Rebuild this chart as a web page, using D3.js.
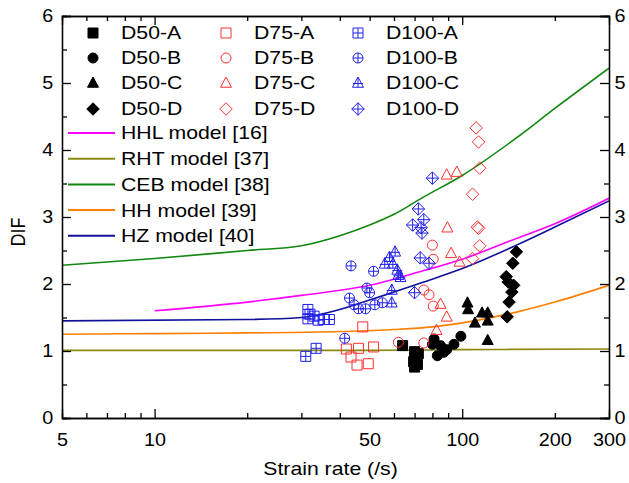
<!DOCTYPE html>
<html>
<head>
<meta charset="utf-8">
<script src="https://cdn.jsdelivr.net/npm/d3@7"></script>
<style>
  body { margin: 0; background: #fff; }
  svg { font-family: Arial, "Liberation Sans", sans-serif; }
</style>
</head>
<body>
<script>
// test data: [strain rate, DIF]
const d50A = [[64,1.08],[70,0.99],[72,0.96],[69.5,0.84],[71.5,0.80],[70,0.76]];
const d50B = [[81,1.18],[80,1.10],[85,1.08],[83,0.93],[89,1.02],[94,1.10],[99,1.22],[87,0.98]];
const d50C = [[104,1.72],[104.5,1.62],[116,1.57],[121,1.57],[110,1.42],[121,1.45],[121,1.16]];
const d50D = [[150,2.48],[146,2.31],[139,2.11],[141,2.03],[147,1.98],[145,1.88],[142,1.73],[140,1.51]];
const d75A = [[47.5,1.36],[42,1.03],[46,1.04],[51.5,1.06],[43.5,0.91],[45.5,0.79],[49.5,0.81]];
const d75B = [[80,2.58],[80.5,2.37],[75,1.91],[78,1.84],[80.5,1.67],[62,1.13],[75,1.12]];
const d75C = [[89,3.63],[96,3.67],[89.5,2.84],[92,2.46],[98,2.33],[85,1.70],[89,1.51],[82.5,1.31]];
const d75D = [[111,4.33],[113,4.12],[114,3.73],[108,3.34],[112,2.85],[113,2.83],[114,2.57],[108,2.38]];
const d100A = [[31.5,1.62],[32,1.55],[31.5,1.48],[33,1.52],[34,1.46],[35.5,1.47],[37,1.47],[31,0.92],[33.5,1.04]];
const d100B = [[43.5,2.27],[51.5,2.19],[49,1.94],[50,1.87],[43,1.79],[44.5,1.69],[46,1.63],[48.5,1.63],[52,1.69],[55,1.72],[41.5,1.19]];
const d100C = [[60.5,2.48],[58,2.40],[56,2.30],[59.5,2.30],[61.5,2.21],[62,2.13],[63,2.10],[59,1.91],[59,1.72]];
const d100D = [[80,3.58],[72,3.12],[75,2.96],[69,2.88],[73.5,2.84],[74,2.76],[73,2.39],[78,2.31],[70,1.87]];

// model curves: [strain rate, DIF]
const hhl = [[10,1.60],[20,1.73],[30,1.83],[50,1.98],[75,2.20],[100,2.37],[150,2.68],[200,2.90],[300,3.28]];
const rht = [[5,1.01],[50,1.01],[100,1.02],[300,1.03]];
const ceb = [[5,2.28],[10,2.38],[20,2.50],[30,2.57],[40,2.72],[50,2.88],[60,3.04],[75,3.30],[100,3.62],[150,4.18],[200,4.62],[300,5.22]];
const hh  = [[5,1.25],[10,1.26],[20,1.27],[40,1.29],[60,1.32],[80,1.36],[100,1.42],[150,1.58],[200,1.73],[300,1.98]];
const hz  = [[5,1.45],[20,1.47],[30,1.50],[40,1.62],[50,1.76],[60,1.88],[75,2.03],[100,2.23],[150,2.58],[200,2.85],[300,3.24]];

// ticks
const xLabels = [5, 10, 50, 100, 200, 300];
const xMajor = [10, 100];
const xMinor = [6, 7, 8, 9, 20, 30, 40, 50, 60, 70, 80, 90, 200];
const yMajor = [0, 1, 2, 3, 4, 5, 6];
const yMinor = [0.5, 1.5, 2.5, 3.5, 4.5, 5.5];

const RED = "#ff3030", BLUE = "#2020ee";

const series = [
  { name: "D50-A", data: d50A, shape: "square", color: "#000", fill: true },
  { name: "D50-B", data: d50B, shape: "circle", color: "#000", fill: true },
  { name: "D50-C", data: d50C, shape: "triangle", color: "#000", fill: true },
  { name: "D50-D", data: d50D, shape: "diamond", color: "#000", fill: true },
  { name: "D75-A", data: d75A, shape: "square", color: RED },
  { name: "D75-B", data: d75B, shape: "circle", color: RED },
  { name: "D75-C", data: d75C, shape: "triangle", color: RED },
  { name: "D75-D", data: d75D, shape: "diamond", color: RED },
  { name: "D100-A", data: d100A, shape: "square", color: BLUE, plus: true },
  { name: "D100-B", data: d100B, shape: "circle", color: BLUE, plus: true },
  { name: "D100-C", data: d100C, shape: "triangle", color: BLUE, plus: true },
  { name: "D100-D", data: d100D, shape: "diamond", color: BLUE, plus: true }
];

const models = [
  { name: "HHL model [16]", data: hhl, color: "#ff00ff" },
  { name: "RHT model [37]", data: rht, color: "#8a8a10" },
  { name: "CEB model [38]", data: ceb, color: "#118811" },
  { name: "HH model [39]", data: hh, color: "#ff7f00" },
  { name: "HZ model [40]", data: hz, color: "#10109a" }
];

const width = 629, height = 483;
const margin = { left: 62, right: 20, top: 16, bottom: 65 };
const pw = width - margin.left - margin.right;
const ph = height - margin.top - margin.bottom;
// the original picture is a bit wider than tall, so text is stretched
const STRETCH = 1.18;

const svg = d3.select("body").append("svg")
  .attr("width", width)
  .attr("height", height);

const x = d3.scaleLog().domain([5, 300]).range([margin.left, margin.left + pw]);
const y = d3.scaleLinear().domain([0, 6]).range([margin.top + ph, margin.top]);

// marker path, r = half size
function markerPath(shape, r, plus) {
  const p = d3.path();
  let t = r, b = r;
  if (shape === "square") {
    p.rect(-r, -r, 2 * r, 2 * r);
  } else if (shape === "circle") {
    p.moveTo(r, 0);
    p.arc(0, 0, r, 0, 2 * Math.PI);
  } else if (shape === "triangle") {
    t = r * 1.2; b = r * 0.85;
    p.moveTo(0, -t); p.lineTo(r * 1.1, b); p.lineTo(-r * 1.1, b); p.closePath();
  } else {
    t = b = r * 1.25;
    p.moveTo(0, -t); p.lineTo(t, 0); p.lineTo(0, t); p.lineTo(-t, 0); p.closePath();
  }
  if (plus) {
    const w = shape === "diamond" ? r * 1.25 : r;
    p.moveTo(-w, shape === "triangle" ? r * 0.1 : 0);
    p.lineTo(w, shape === "triangle" ? r * 0.1 : 0);
    p.moveTo(0, -t); p.lineTo(0, b);
  }
  return p.toString();
}

svg.append("clipPath").attr("id", "plot")
  .append("rect")
  .attr("x", margin.left).attr("y", margin.top)
  .attr("width", pw).attr("height", ph);

// model lines
const line = d3.line()
  .x(d => x(d[0]))
  .y(d => y(d[1]))
  .curve(d3.curveMonotoneX);

svg.append("g").attr("clip-path", "url(#plot)")
  .selectAll("path")
  .data(models)
  .join("path")
  .attr("d", d => line(d.data))
  .attr("fill", "none")
  .attr("stroke", d => d.color)
  .attr("stroke-width", 1.6);

// test points
const pts = svg.append("g");
series.forEach(s => {
  pts.append("g").selectAll("path")
    .data(s.data)
    .join("path")
    .attr("transform", d => `translate(${x(d[0])},${y(d[1])})`)
    .attr("d", markerPath(s.shape, 5, s.plus))
    .attr("fill", s.fill ? s.color : "none")
    .attr("stroke", s.color)
    .attr("stroke-width", 1);
});

// axes
const bottom = margin.top + ph, right = margin.left + pw;
function styleAxis(g) {
  g.selectAll("path.domain").attr("stroke", "#000").attr("stroke-width", 1.3);
  g.selectAll(".tick line").attr("stroke", "#000").attr("stroke-width", 1.3);
  g.selectAll("text").attr("font-size", 18).attr("fill", "#000")
    .attr("transform", "scale(1.1,1)");
}

svg.append("g").attr("transform", `translate(0,${bottom})`)
  .call(d3.axisBottom(x).tickValues(xMajor).tickSize(-9).tickFormat(""))
  .call(styleAxis);
svg.append("g").attr("transform", `translate(0,${bottom})`)
  .call(d3.axisBottom(x).tickValues(xMinor).tickSize(-5).tickFormat(""))
  .call(styleAxis);
svg.append("g").attr("transform", `translate(0,${bottom})`)
  .call(d3.axisBottom(x).tickValues(xLabels).tickSize(0).tickPadding(15).tickFormat(d3.format("d")))
  .call(styleAxis)
  .call(g => g.select(".domain").remove());

svg.append("g").attr("transform", `translate(0,${margin.top})`)
  .call(d3.axisTop(x).tickValues(xMajor).tickSize(-9).tickFormat(""))
  .call(styleAxis);
svg.append("g").attr("transform", `translate(0,${margin.top})`)
  .call(d3.axisTop(x).tickValues(xMinor).tickSize(-5).tickFormat(""))
  .call(styleAxis);

svg.append("g").attr("transform", `translate(${margin.left},0)`)
  .call(d3.axisLeft(y).tickValues(yMajor).tickSize(-9).tickPadding(8).tickFormat(d3.format("d")))
  .call(styleAxis);
svg.append("g").attr("transform", `translate(${margin.left},0)`)
  .call(d3.axisLeft(y).tickValues(yMinor).tickSize(-5).tickFormat(""))
  .call(styleAxis);

svg.append("g").attr("transform", `translate(${right},0)`)
  .call(d3.axisRight(y).tickValues(yMajor).tickSize(-9).tickPadding(5).tickFormat(d3.format("d")))
  .call(styleAxis);
svg.append("g").attr("transform", `translate(${right},0)`)
  .call(d3.axisRight(y).tickValues(yMinor).tickSize(-5).tickFormat(""))
  .call(styleAxis);

// axis titles
svg.append("text")
  .attr("transform", `translate(${(margin.left + right) / 2 - 5},475) scale(${STRETCH},1)`)
  .attr("text-anchor", "middle")
  .attr("font-size", 18)
  .text("Strain rate (/s)");

svg.append("text")
  .attr("transform", "translate(25,232) rotate(-90) scale(1,1.1)")
  .attr("text-anchor", "middle")
  .attr("font-size", 18)
  .text("DIF");

// legend: markers in three columns
const colX = [93, 226, 358];
const rowY = [33, 58, 83, 109];
const leg = svg.append("g");
series.forEach((s, i) => {
  const cx = colX[Math.floor(i / 4)], cy = rowY[i % 4];
  leg.append("path")
    .attr("transform", `translate(${cx},${cy})`)
    .attr("d", markerPath(s.shape, 5, s.plus))
    .attr("fill", s.fill ? s.color : "none")
    .attr("stroke", s.color);
  leg.append("text")
    .attr("transform", `translate(${cx + 28},${cy}) scale(${STRETCH},1)`)
    .attr("dy", "0.36em")
    .attr("font-size", 18)
    .text(s.name);
});

// legend: model lines
models.forEach((m, i) => {
  const ly = 133 + i * 25.7;
  leg.append("line")
    .attr("x1", 68).attr("x2", 115)
    .attr("y1", ly).attr("y2", ly)
    .attr("stroke", m.color).attr("stroke-width", 2);
  leg.append("text")
    .attr("transform", `translate(121,${ly}) scale(${STRETCH},1)`)
    .attr("dy", "0.36em")
    .attr("font-size", 18)
    .text(m.name);
});
</script>
</body>
</html>
